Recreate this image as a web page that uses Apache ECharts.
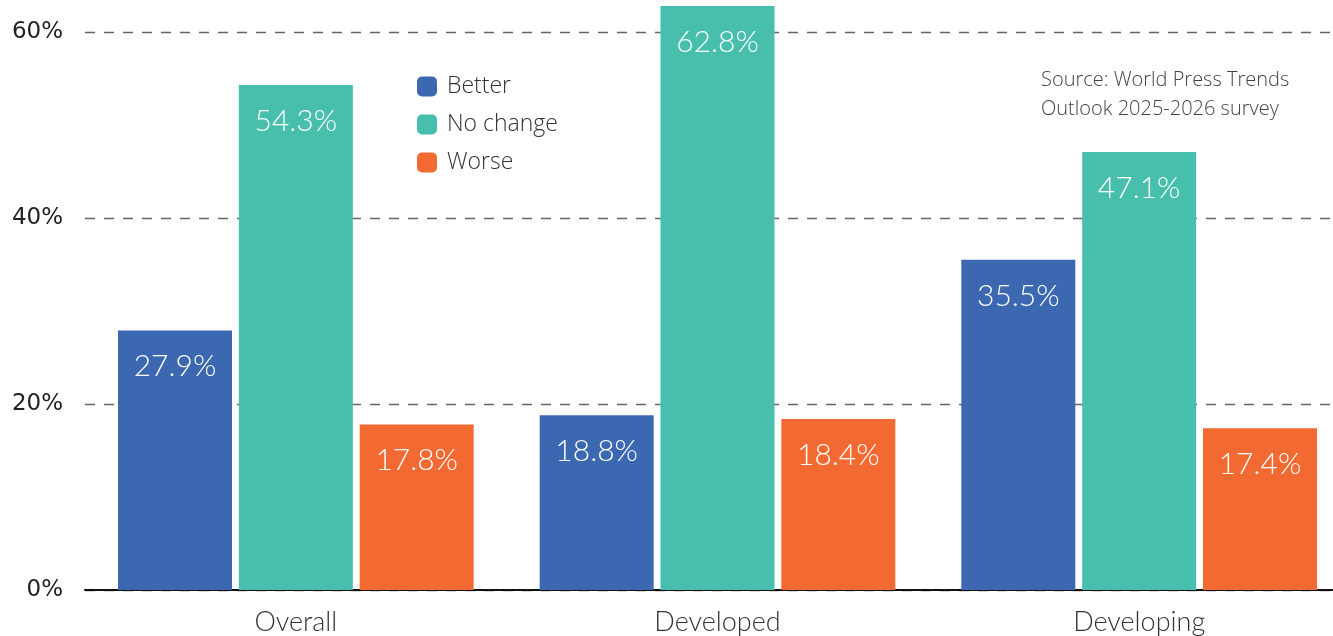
<!DOCTYPE html>
<html>
<head>
<meta charset="utf-8">
<script src="https://cdn.jsdelivr.net/npm/echarts@6/dist/echarts.min.js"></script>
<style>
  html, body { margin: 0; padding: 0; background: #fff; overflow: hidden; width: 1333px; height: 636px; }
  /* the canvas is slightly wider than the page so the last group runs off the right edge */
  #chart { width: 1350px; height: 636px; }
</style>
</head>
<body>
<div id="chart"></div>
<script>
// Survey outcome by market group
const categories = ['Overall', 'Developed', 'Developing'];
const better = [27.9, 18.8, 35.5];
const noChange = [54.3, 62.8, 47.1];
const worse = [17.8, 18.4, 17.4];
const yTicks = [0, 20, 40, 60];
const sourceLines = ['Source: World Press Trends', 'Outlook 2025-2026 survey'];

const colors = { better: '#3b68b1', noChange: '#48bfad', worse: '#f26a32' };
const FONT = 'Lato';
const WIDE_FONT = 'Open Sans';

const chart = echarts.init(document.getElementById('chart'), null, { renderer: 'canvas' });

function barSeries(name, data, color) {
  return {
    name: name,
    type: 'bar',
    data: data,
    barWidth: 114,
    barGap: '6%',
    clip: false,
    itemStyle: { color: color },
    label: {
      show: true,
      position: 'insideTop',
      distance: 21,
      color: '#ffffff',
      fontFamily: FONT,
      fontWeight: 300,
      fontSize: 30,
      formatter: p => p.value.toFixed(1) + '%'
    }
  };
}

chart.setOption({
  animation: false,
  backgroundColor: '#ffffff',
  color: [colors.better, colors.noChange, colors.worse],
  grid: { left: 85, right: 0, top: 32, bottom: 46, containLabel: false },
  legend: {
    orient: 'vertical',
    left: 417,
    top: 75,
    padding: 0,
    itemWidth: 20,
    itemHeight: 20,
    itemGap: 15,
    icon: 'roundRect',
    textStyle: { fontFamily: WIDE_FONT, fontWeight: 300, fontSize: 23, lineHeight: 22, color: '#333', padding: [0, 0, 0, 5] },
    data: ['Better', 'No change', 'Worse']
  },
  graphic: [{
    type: 'text',
    left: 1041,
    top: 66,
    style: {
      text: sourceLines.join('\n'),
      font: '300 20px "' + WIDE_FONT + '"',
      fill: '#444',
      lineHeight: 29
    }
  }],
  xAxis: {
    type: 'category',
    data: categories,
    axisLine: { show: true, lineStyle: { color: '#111', width: 2 } },
    axisTick: { show: false },
    axisLabel: { margin: 19, fontFamily: FONT, fontWeight: 300, fontSize: 27, color: '#333' }
  },
  yAxis: {
    type: 'value',
    min: yTicks[0],
    max: yTicks[yTicks.length - 1],
    interval: 20,
    axisLine: { show: false },
    axisTick: { show: false },
    axisLabel: {
      margin: 22,
      fontFamily: 'DejaVu Sans',
      fontSize: 23,
      color: '#222',
      formatter: v => v + '%'
    },
    splitLine: {
      show: true,
      lineStyle: { color: '#666', width: 1.3, type: [10, 9] }
    }
  },
  series: [
    barSeries('Better', better, colors.better),
    barSeries('No change', noChange, colors.noChange),
    barSeries('Worse', worse, colors.worse)
  ]
});
</script>
</body>
</html>
